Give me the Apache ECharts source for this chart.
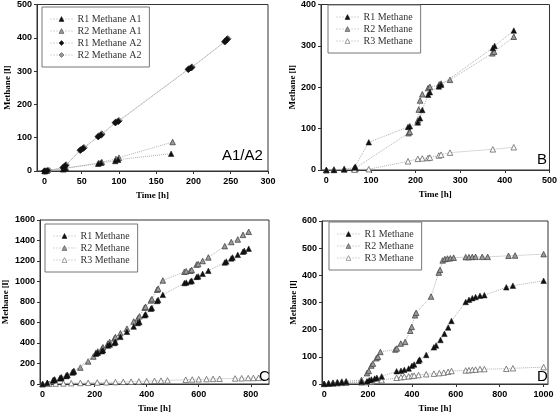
<!DOCTYPE html>
<html><head><meta charset="utf-8">
<script src="https://cdn.jsdelivr.net/npm/echarts@6/dist/echarts.min.js"></script>
<style>html,body{margin:0;padding:0;background:#fff}#c{width:560px;height:414px}</style>
</head><body><div id="c"></div>
<script>
// ---------- Panel A1/A2 ----------
const a_r1_A1 = [[0,0],[25,5],[28,8],[72,22],[76,25],[95,30],[99,34],[170,52]];
const a_r2_A1 = [[1,0],[26,6],[29,9],[73,24],[77,27],[96,36],[100,40],[172,87]];
const a_r1_A2 = [[0,0],[4,1],[25,10],[28,16],[48,62],[52,68],[72,103],[76,108],[95,145],[99,149],[193,305],[197,310],[242,388],[245,395]];
const a_r2_A2 = [[2,0],[6,1],[26,12],[29,18],[49,64],[53,70],[73,105],[77,111],[96,147],[100,151],[194,307],[198,312],[243,390],[246,397]];
// ---------- Panel B ----------
const b_r1 = [[0,0],[17,0],[40,2],[63,6],[65,8],[95,67],[183,104],[187,106],[205,115],[210,125],[215,145],[228,182],[232,188],[252,202],[257,206],[373,295],[377,300],[420,337]];
const b_r2 = [[0,0],[17,1],[40,2],[63,3],[65,2],[184,89],[187,92],[205,120],[207,146],[210,168],[215,183],[228,198],[232,201],[253,207],[257,209],[277,218],[372,282],[376,286],[420,322]];
const b_r3 = [[0,0],[17,1],[40,1],[63,1],[95,2],[183,21],[205,27],[215,28],[228,29],[232,30],[252,35],[257,37],[277,42],[373,50],[420,55]];
// ---------- Panel C ----------
const c_r1 = [[0,0],[18,12],[41,35],[46,42],[67,55],[72,62],[91,78],[95,86],[115,112],[120,122],[205,295],[212,305],[228,320],[232,330],[251,375],[258,385],[276,400],[280,410],[299,460],[324,510],[350,560],[366,595],[372,605],[392,670],[396,680],[416,735],[420,742],[440,810],[444,820],[462,870],[545,985],[552,990],[568,1000],[573,1008],[592,1045],[598,1050],[615,1075],[637,1105],[700,1185],[706,1195],[725,1225],[730,1235],[750,1260],[770,1290],[775,1300],[792,1320]];
const c_r2 = [[0,0],[18,10],[41,38],[46,45],[67,58],[72,66],[91,82],[95,90],[115,118],[120,128],[145,160],[175,220],[195,268],[205,305],[212,318],[228,345],[232,358],[251,395],[258,410],[276,445],[280,458],[299,495],[324,540],[350,610],[366,640],[372,660],[392,745],[396,752],[416,815],[420,828],[440,920],[444,930],[462,1010],[545,1095],[552,1100],[568,1105],[573,1112],[592,1165],[598,1170],[615,1200],[637,1235],[700,1345],[725,1385],[750,1410],[770,1455],[792,1485]];
const c_r3 = [[0,0],[25,2],[50,4],[80,6],[110,8],[145,10],[175,12],[210,15],[245,17],[280,19],[310,21],[340,23],[370,25],[400,28],[430,31],[455,33],[480,35],[550,42],[575,44],[600,46],[630,48],[655,50],[680,51],[740,54],[765,56],[790,58],[810,59],[830,60]];
// ---------- Panel D ----------
const d_r1 = [[0,1],[20,2],[40,3],[60,5],[80,6],[100,7],[170,8],[195,10],[205,14],[215,17],[230,20],[240,23],[262,28],[330,47],[350,49],[365,52],[385,57],[400,67],[410,72],[430,85],[435,90],[465,107],[500,135],[510,142],[530,162],[548,185],[565,208],[580,232],[645,302],[660,310],[675,316],[690,320],[710,325],[730,327],[830,356],[860,362],[1000,380]];
const d_r2 = [[0,1],[20,3],[40,5],[60,7],[80,9],[100,10],[170,15],[195,40],[203,48],[215,68],[222,75],[238,95],[245,100],[256,118],[324,127],[331,131],[349,149],[369,155],[392,196],[399,210],[414,253],[419,262],[487,322],[522,410],[528,420],[540,455],[550,460],[562,462],[575,463],[590,465],[645,467],[660,467],[675,468],[690,468],[720,468],[745,468],[840,472],[870,473],[1000,478]];
const d_r3 = [[0,0],[20,1],[40,2],[60,3],[80,4],[100,5],[170,6],[195,7],[205,8],[215,9],[230,11],[240,12],[262,14],[330,23],[350,25],[365,27],[385,28],[400,30],[410,31],[430,33],[465,36],[500,38],[525,40],[545,42],[565,45],[580,48],[645,50],[660,51],[675,52],[690,53],[710,55],[730,55],[830,56],[860,58],[1000,62]];
// ---------- Tick labels ----------
const xTicksA = [0,50,100,150,200,250,300];
const yTicksA = [0,100,200,300,400,500];
const xTicksB = [0,100,200,300,400,500];
const yTicksB = [0,100,200,300,400];
const xTicksC = [0,200,400,600,800];
const yTicksC = [0,200,400,600,800,1000,1200,1400,1600];
const xTicksD = [0,200,400,600,800,1000];
const yTicksD = [0,100,200,300,400,500,600];
const panelLabels = ['A1/A2','B','C','D'];

const AX = '#333';
const lblStyle = {color:'#000', fontFamily:'Liberation Sans, Arial', fontWeight:'bold', fontSize:9, formatter:function(v){return String(v);}};
const nameStyle = {color:'#000', fontFamily:'Liberation Serif, Times New Roman', fontWeight:'bold', fontSize:9};

function xa(gi, min, max, ticks){
  return {type:'value', gridIndex:gi, min:min, max:max,
    axisLine:{show:true, onZero:false, lineStyle:{color:AX, width:1}},
    axisTick:{show:true, customValues:ticks, length:3, lineStyle:{color:AX}},
    axisLabel:Object.assign({customValues:ticks, margin:6}, lblStyle),
    splitLine:{show:false},
    name:'Time [h]', nameLocation:'middle', nameGap:20, nameTextStyle:nameStyle};
}
function ya(gi, min, max, ticks, gap){
  return {type:'value', gridIndex:gi, min:min, max:max,
    axisLine:{show:true, onZero:false, lineStyle:{color:AX, width:1}},
    axisTick:{show:true, customValues:ticks, length:3, lineStyle:{color:AX}},
    axisLabel:Object.assign({customValues:ticks, margin:5}, lblStyle),
    splitLine:{show:false},
    name:'Methane [l]', nameLocation:'middle', nameGap:gap, nameTextStyle:nameStyle};
}
const lineSt = {color:'#b0b0b0', width:1, type:'dotted'};
const styles = {
  r1:{color:'#111', borderColor:'#111', borderWidth:0.5},
  r2:{color:'#9a9a9a', borderColor:'#444', borderWidth:0.8},
  r3:{color:'#fff', borderColor:'#666', borderWidth:0.8}
};
function ser(name, gi, data, sym, st, size){
  return {type:'line', name:name, xAxisIndex:gi, yAxisIndex:gi, data:data,
    symbol:sym, symbolSize:size||5.5, showSymbol:true, lineStyle:lineSt,
    itemStyle:styles[st], emphasis:{disabled:true}, z: st==='r1'?4:3};
}
function legItem(name, st){
  return {name:name, itemStyle:Object.assign({}, styles[st], {borderWidth:0.6}),
    lineStyle:{color:'#aaa', width:1, type:[1,2]}};
}
function leg(items, left, top){
  return {data:items, orient:'vertical', left:left, top:top, itemWidth:22, itemHeight:6, itemGap:2,
    lineStyle:{color:'#aaa', width:1, type:[1,2]},
    backgroundColor:'#fff', borderColor:'#777', borderWidth:1, padding:[7,8,7,8],
    textStyle:{fontFamily:'Liberation Serif, Times New Roman', fontSize:10, color:'#333'}, selectedMode:false};
}
const trio = [legItem('R1 Methane','r1'), legItem('R2 Methane','r2'), legItem('R3 Methane','r3')];

const chart = echarts.init(document.getElementById('c'), null, {renderer:'canvas'});
chart.setOption({
  animation:false, backgroundColor:'#fff',
  grid:[
    {left:37, top:4, width:231, height:167, show:true, borderColor:AX, borderWidth:1},
    {left:321, top:4, width:232, height:166, show:true, borderColor:AX, borderWidth:1},
    {left:39, top:220, width:230, height:167, show:true, borderColor:AX, borderWidth:1},
    {left:322, top:221, width:226, height:164, show:true, borderColor:AX, borderWidth:1}
  ],
  xAxis:[xa(0,-10,300,xTicksA), xa(1,-12,500,xTicksB), xa(2,-10,870,xTicksC), xa(3,-10,1020,xTicksD)],
  yAxis:[ya(0,0,500,yTicksA,25), ya(1,0,400,yTicksB,22), ya(2,0,1600,yTicksC,30), ya(3,0,600,yTicksD,24)],
  legend:[
    leg([legItem('R1 Methane A1','r1'), legItem('R2 Methane A1','r2'), legItem('R1 Methane A2','r1'), legItem('R2 Methane A2','r2')], 42, 7),
    leg(trio, 328, 5),
    leg(trio, 45, 224),
    leg(trio, 329, 222)
  ],
  series:[
    ser('R1 Methane A1',0,a_r1_A1,'triangle','r1'),
    ser('R2 Methane A1',0,a_r2_A1,'triangle','r2'),
    ser('R1 Methane A2',0,a_r1_A2,'diamond','r1',6.5),
    ser('R2 Methane A2',0,a_r2_A2,'diamond','r2',6.5),
    ser('R1 Methane',1,b_r1,'triangle','r1'),
    ser('R2 Methane',1,b_r2,'triangle','r2'),
    ser('R3 Methane',1,b_r3,'triangle','r3'),
    ser('R1 Methane',2,c_r1,'triangle','r1'),
    ser('R2 Methane',2,c_r2,'triangle','r2'),
    ser('R3 Methane',2,c_r3,'triangle','r3'),
    ser('R1 Methane',3,d_r1,'triangle','r1'),
    ser('R2 Methane',3,d_r2,'triangle','r2'),
    ser('R3 Methane',3,d_r3,'triangle','r3')
  ],
  graphic:[
    {type:'text', left:222, top:148, style:{text:panelLabels[0], font:'15px Liberation Sans, Arial', fill:'#000'}},
    {type:'text', left:537, top:152, style:{text:panelLabels[1], font:'15px Liberation Sans, Arial', fill:'#000'}},
    {type:'text', left:259, top:369, style:{text:panelLabels[2], font:'15px Liberation Sans, Arial', fill:'#000'}},
    {type:'text', left:537, top:369, style:{text:panelLabels[3], font:'15px Liberation Sans, Arial', fill:'#000'}}
  ]
});
</script></body></html>
